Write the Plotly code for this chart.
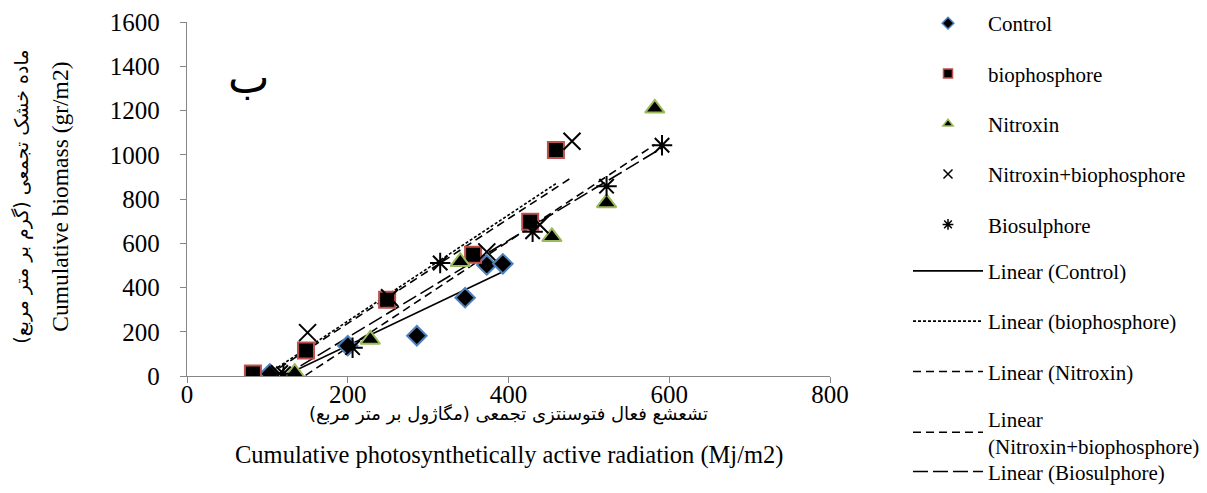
import numpy as np
import plotly.graph_objects as go

# ---- data ----
control_x = [103, 200, 286, 346, 373, 393]
control_y = [10, 137, 182, 354, 502, 507]
bio_x = [82, 148, 249, 356, 427, 459]
bio_y = [11, 115, 345, 548, 697, 1021]
nitro_x = [134, 228, 340, 454, 522, 582]
nitro_y = [15, 165, 516, 629, 782, 1210]
nb_x = [115, 150, 252, 373, 439, 479]
nb_y = [10, 196, 354, 561, 684, 1061]
bs_x = [120, 206, 315, 430, 522, 591]
bs_y = [10, 128, 511, 652, 858, 1043]

series_names = ["Control", "biophosphore", "Nitroxin", "Nitroxin+biophosphore", "Biosulphore"]
trend_names = ["Linear (Control)", "Linear (biophosphore)", "Linear (Nitroxin)",
               "Linear<br>(Nitroxin+biophosphore)", "Linear (Biosulphore)"]
x_ticks = [0, 200, 400, 600, 800]
y_ticks = [0, 200, 400, 600, 800, 1000, 1200, 1400, 1600]

FONT = "Liberation Serif, Times New Roman, DejaVu Sans, serif"
FA_FONT = "DejaVu Sans, Noto Sans, sans-serif"

xs = [control_x, bio_x, nitro_x, nb_x, bs_x]
ys = [control_y, bio_y, nitro_y, nb_y, bs_y]
markers = [
    dict(symbol="diamond", size=15, color="black", line=dict(color="#4F81BD", width=2)),
    dict(symbol="square", size=16, color="black", line=dict(color="#C0504D", width=2)),
    dict(symbol="triangle-up", size=17, color="black", line=dict(color="#9BBB59", width=2)),
    dict(symbol="x-thin-open", size=17, color="black", line=dict(color="black", width=2)),
    dict(symbol="asterisk-open", size=17, color="black", line=dict(color="black", width=2)),
]
leg_markers = [
    dict(symbol="diamond", size=9, color="black", line=dict(color="#4F81BD", width=1.5)),
    dict(symbol="square", size=9, color="black", line=dict(color="#C0504D", width=1.5)),
    dict(symbol="triangle-up", size=9, color="black", line=dict(color="#9BBB59", width=1.5)),
    dict(symbol="x-thin-open", size=9, color="black", line=dict(color="black", width=1.5)),
    dict(symbol="asterisk-open", size=9, color="black", line=dict(color="black", width=1.5)),
]
dashes = ["solid", "3px,2px", "8px,5px", "8px,5px", "15px,5px"]
line_legends = ["legend2", "legend2", "legend2", "legend4", "legend3"]

fig = go.Figure()

# trend lines (least squares through each series)
for i in range(5):
    x = np.array(xs[i], dtype=float)
    y = np.array(ys[i], dtype=float)
    k, b = np.polyfit(x, y, 1)
    xl = np.array([x.min(), x.max()])
    fig.add_trace(go.Scatter(x=xl, y=k * xl + b, mode="lines",
                             line=dict(color="black", width=1.6, dash=dashes[i]),
                             showlegend=False, hoverinfo="skip"))

# data points
for i in range(5):
    fig.add_trace(go.Scatter(x=xs[i], y=ys[i], mode="markers", marker=markers[i],
                             name=series_names[i], showlegend=False))

# legend entries
for i in range(5):
    fig.add_trace(go.Scatter(x=[None], y=[None], mode="markers", marker=leg_markers[i],
                             name=series_names[i], legend="legend", legendgroup="m%d" % i))
for i in range(5):
    fig.add_trace(go.Scatter(x=[None], y=[None], mode="lines",
                             line=dict(color="black", width=1.6, dash=dashes[i]),
                             name=trend_names[i], legend=line_legends[i],
                             legendgroup="l%d" % i))

W, H = 1207, 493
L, R, T, B = 187, 377, 22, 116.5
pw, ph = W - L - R, H - T - B

def px(p):
    return (p - L) / pw

def py(p):
    return (H - B - p) / ph

leg_common = dict(font=dict(family=FONT, size=21, color="black"), bgcolor="rgba(0,0,0,0)",
                  itemwidth=70, tracegroupgap=20, xanchor="left", yanchor="top",
                  itemclick=False, itemdoubleclick=False)

fig.update_layout(
    width=W, height=H,
    margin=dict(l=L, r=R, t=T, b=B, autoexpand=False),
    plot_bgcolor="white", paper_bgcolor="white",
    font=dict(family=FONT, size=24, color="black"),
    xaxis=dict(range=[0, 800], tickvals=x_ticks, showgrid=False, zeroline=False,
               showline=True, linecolor="#868686", linewidth=1.3,
               ticks="outside", ticklen=6, tickcolor="#868686", tickwidth=1.3,
               tickfont=dict(family=FONT, size=25), ticklabelstandoff=-10, automargin=False),
    yaxis=dict(range=[0, 1600], tickvals=y_ticks, showgrid=False, zeroline=False,
               showline=True, linecolor="#868686", linewidth=1.3,
               ticks="outside", ticklen=6, tickcolor="#868686", tickwidth=1.3,
               tickfont=dict(family=FONT, size=25), ticklabelstandoff=15, automargin=False),
    legend=dict(x=px(908), y=py(3), **leg_common),
    legend2=dict(x=px(908), y=py(251), **leg_common),
    legend4=dict(x=px(908), y=py(399), **leg_common),
    legend3=dict(x=px(908), y=py(452), **leg_common),
)

ann = [
    dict(text="ب", x=px(248), y=py(78), font=dict(family=FA_FONT, size=44)),
    dict(text="تشعشع فعال فتوسنتزی تجمعی (مگاژول بر متر مربع)", x=0.5, y=py(415),
         font=dict(family=FA_FONT, size=18)),
    dict(text="Cumulative photosynthetically active radiation (Mj/m2)", x=0.5, y=py(456),
         font=dict(family=FONT, size=24.5)),
    dict(text="ماده خشک تجمعی (گرم بر متر مربع)", x=px(22), y=py(197), textangle=-90,
         font=dict(family=FA_FONT, size=19)),
    dict(text="Cumulative biomass (gr/m2)", x=px(60), y=py(197), textangle=-90,
         font=dict(family=FONT, size=23.5)),
]
for a in ann:
    fig.add_annotation(xref="paper", yref="paper", showarrow=False,
                       xanchor="center", yanchor="middle", **a)

fig.write_html("out.html")
